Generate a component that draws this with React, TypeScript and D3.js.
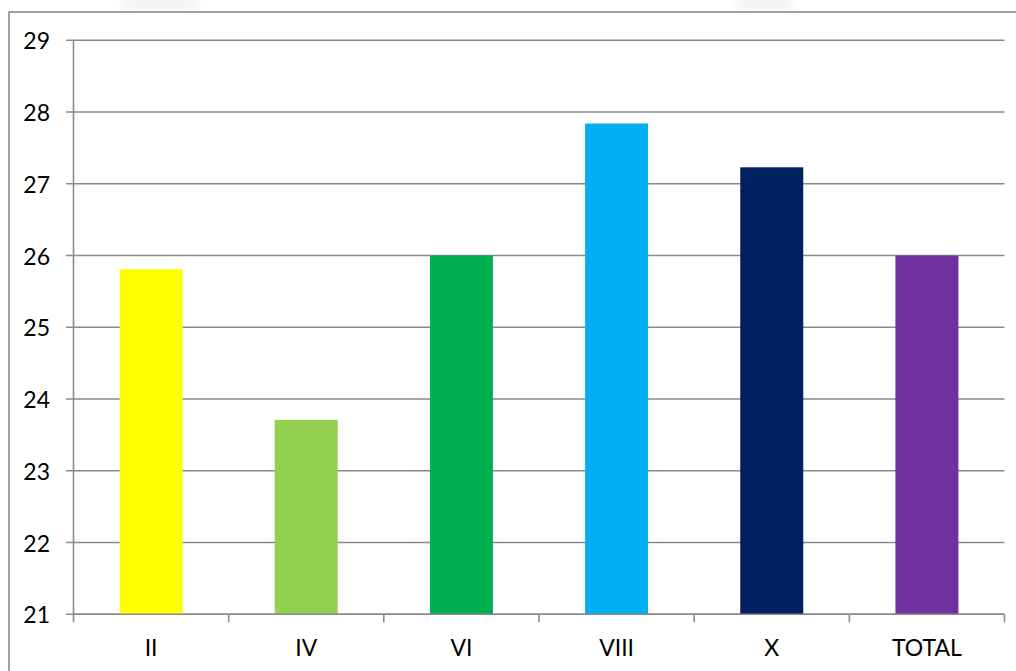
import React from "react";
import * as d3 from "d3";

// Category labels, bar values and colours
const categories: string[] = ["II", "IV", "VI", "VIII", "X", "TOTAL"];
const values: number[] = [25.81, 23.71, 26.0, 27.84, 27.23, 26.0];
const colors: string[] = ["#FFFF00", "#92D050", "#00B050", "#00B0F0", "#002060", "#7030A0"];
const yTicks: number[] = [21, 22, 23, 24, 25, 26, 27, 28, 29];

const W = 1016;
const H = 671;
const left = 73.5;
const right = 1004.5;
const top = 40.3;
const bottom = 614.3;
const axisColor = "#8a8a8a";
const font = "Lato, 'Open Sans', sans-serif";
const fontSize = 23;

export default function App() {
  const y = d3.scaleLinear().domain([21, 29]).range([bottom, top]);
  const x = d3.scaleBand<string>().domain(categories).range([left, right]).padding(0);
  const step = x.step();
  const barW = x.bandwidth() * 0.406;
  const boundaries = d3.range(categories.length + 1).map((i) => left + i * step);

  return (
    <div style={{ position: "absolute", left: 0, top: 0 }}>
      <svg width={W} height={H} style={{ display: "block", background: "#fff" }}>
        <defs>
          <filter id="soft" x="-50%" y="-50%" width="200%" height="200%">
            <feGaussianBlur stdDeviation="4" />
          </filter>
        </defs>
        {/* faint background marks above the frame */}
        <g filter="url(#soft)" opacity={0.2}>
          <ellipse cx={160} cy={3} rx={40} ry={7} fill="#b8c4b0" />
          <ellipse cx={765} cy={3} rx={30} ry={7} fill="#b8c4b0" />
        </g>
        {/* outer frame */}
        <rect x={9} y={12} width={1030} height={700} fill="#fff" stroke={axisColor} strokeWidth={1.6} />

        {/* horizontal gridlines and y tick marks */}
        {yTicks.map((t) => (
          <g key={t}>
            <line x1={66} x2={right} y1={y(t)} y2={y(t)} stroke={axisColor} strokeWidth={1.6} />
            <text
              x={50}
              y={y(t)}
              textAnchor="end"
              dominantBaseline="central"
              fontFamily={font}
              fontSize={fontSize}
              fill="#000"
            >
              {t}
            </text>
          </g>
        ))}

        {/* y axis */}
        <line x1={left} x2={left} y1={top} y2={bottom} stroke={axisColor} strokeWidth={1.6} />

        {/* bars */}
        {categories.map((c, i) => {
          const cx = (x(c) as number) + x.bandwidth() / 2;
          return (
            <rect
              key={c}
              x={cx - barW / 2}
              y={y(values[i])}
              width={barW}
              height={y(21) - y(values[i])}
              fill={colors[i]}
            />
          );
        })}

        {/* x axis line and tick marks */}
        <line x1={left} x2={right} y1={bottom} y2={bottom} stroke={axisColor} strokeWidth={1.6} />
        {boundaries.map((bx, i) => (
          <line key={i} x1={bx} x2={bx} y1={bottom} y2={bottom + 8} stroke={axisColor} strokeWidth={1.6} />
        ))}

        {/* category labels */}
        {categories.map((c) => (
          <text
            key={c}
            x={(x(c) as number) + x.bandwidth() / 2}
            y={656}
            textAnchor="middle"
            fontFamily={font}
            fontSize={fontSize}
            fill="#000"
          >
            {c}
          </text>
        ))}
      </svg>
    </div>
  );
}
